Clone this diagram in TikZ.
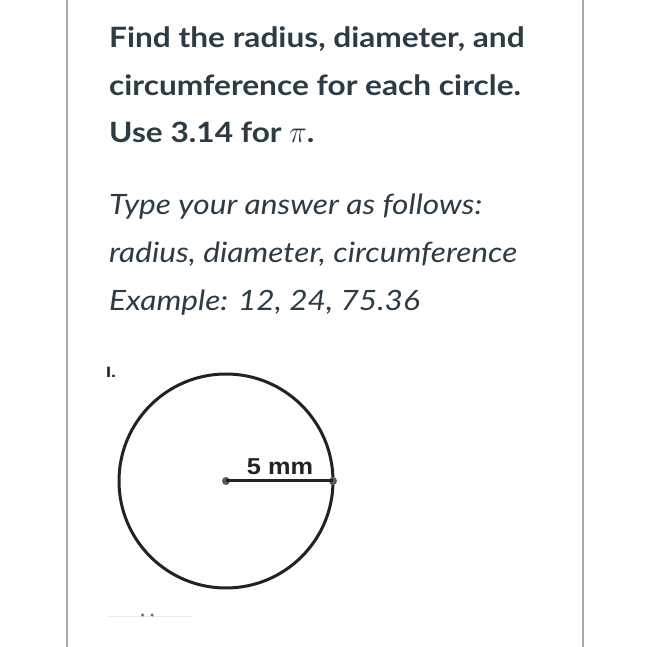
\documentclass[tikz,border=0pt]{standalone}
\usepackage{fontspec}
\setmainfont{Lato}
\newfontfamily\scanfont{Liberation Sans}
\definecolor{txt}{HTML}{2D3B45}
\definecolor{frame}{HTML}{A9A9A9}
\definecolor{ink}{HTML}{222222}
\definecolor{dotc}{HTML}{5A5A5A}
\newcommand{\wide}[1]{\scalebox{1.13}[1]{#1}}
\tikzset{
  headline/.style={anchor=base west, inner sep=0pt, text=txt, font=\fontsize{28}{34}\selectfont\bfseries},
  infoline/.style={anchor=base west, inner sep=0pt, text=txt, font=\fontsize{28}{34}\selectfont\itshape},
  framerule/.style={draw=frame, line width=2pt},
  circline/.style={draw=ink, line width=3pt},
  enddot/.style={circle, fill=dotc, inner sep=0pt, minimum size=8pt},
}
\begin{document}
\begin{tikzpicture}[x=1pt,y=-1pt]
\useasboundingbox (0,0) rectangle (649,647);
\fill[white] (0,0) rectangle (649,647);
\coordinate (ftl) at (66.7,0);
\coordinate (fbl) at (66.7,647);
\coordinate (ftr) at (582.7,0);
\coordinate (fbr) at (582.7,647);
\draw[framerule] (ftl) -- (fbl);
\draw[framerule] (ftr) -- (fbr);

\node[headline] (h1) at (109,47.3) {\wide{Find the radius, diameter, and}};
\node[headline] (h2) at (109,95.7) {\wide{circumference for each circle.}};
\node[headline] (h3) at (109,143) {\wide{Use 3.14 for \scalebox{1.05}[1.25]{\(\pi\)}.}};

\node[infoline] (i1) at (109,215) {\wide{Type your answer as follows:}};
\node[infoline] (i2) at (109,263) {\wide{radius, diameter, circumference}};
\node[infoline] (i3) at (109,310.7) {\wide{Example: 12, 24, 75.36}};

\node[anchor=base west, inner sep=0pt, text=ink, font=\fontsize{15}{17}\selectfont\scanfont\bfseries] (num) at (106,377.5) {\scalebox{1.2}[1]{I.}};

\coordinate (c) at (226,481);
\draw[circline] (c) circle[radius=107];
\node[enddot] (cd) at (c) {};
\node[enddot] (rd) at (333,481) {};
\draw[circline] (cd.center) -- (rd.center);
\node[anchor=base, inner sep=0pt, text=ink, font=\fontsize{23}{26}\selectfont\scanfont\bfseries] (lab) at (280,474.3) {\scalebox{1.1}[1]{5 mm}};

\coordinate (fl) at (108,616);
\coordinate (fr) at (192,616);
\draw[black!8, line width=1pt] (fl) -- (fr);
\node[circle, fill=black!55, inner sep=0pt, minimum size=3.5pt] (d1) at (142.5,615) {};
\node[circle, fill=black!55, inner sep=0pt, minimum size=3.5pt] (d2) at (152,615) {};
\end{tikzpicture}
\end{document}
